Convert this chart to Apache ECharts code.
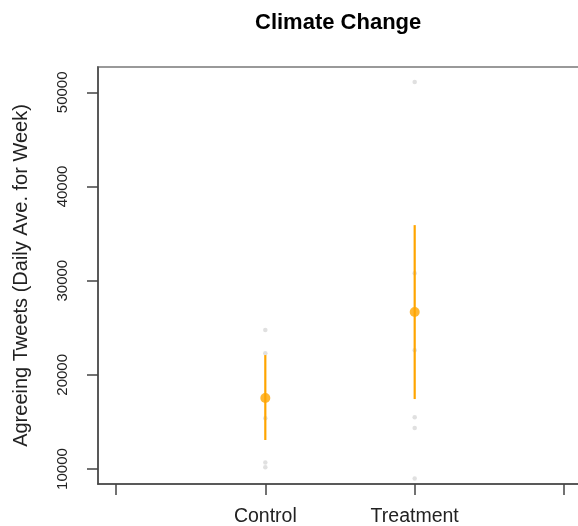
<!DOCTYPE html>
<html>
<head>
<meta charset="utf-8">
<script src="https://cdn.jsdelivr.net/npm/echarts@6/dist/echarts.min.js"></script>
<style>html,body{margin:0;padding:0;background:#fff;}#c{width:578px;height:526px;}</style>
</head>
<body>
<div id="c"></div>
<script>
const categories = ['Control', 'Treatment'];
const categoryPositions = [1, 2];
const meanValues = [17540, 26670];
const lowerValues = [13080, 17430];
const upperValues = [22100, 35900];
const controlPoints = [24760, 22300, 15400, 10700, 10200];
const treatmentPoints = [51100, 30800, 22600, 15500, 14350, 9000];
const yTicks = [10000, 20000, 30000, 40000, 50000];
const xTicks = [0, 1, 2, 3];

const FONT = 'Liberation Sans, Arial, Helvetica, sans-serif';

const rawPoints = [];
controlPoints.forEach(v => rawPoints.push([categoryPositions[0], v]));
treatmentPoints.forEach(v => rawPoints.push([categoryPositions[1], v]));

const barData = categoryPositions.map((x, i) => [x, lowerValues[i], upperValues[i]]);
const meanData = categoryPositions.map((x, i) => [x, meanValues[i]]);

const chart = echarts.init(document.getElementById('c'), null, {renderer: 'canvas'});
chart.setOption({
  animation: false,
  backgroundColor: '#fff',
  title: {
    text: 'Climate Change',
    left: 255, top: 12, padding: 0,
    textStyle: {fontFamily: FONT, fontSize: 22, fontWeight: 'bold', color: '#000'}
  },
  grid: {
    left: 98, top: 67, width: 484, height: 417,
    outerBoundsMode: 'none', containLabel: false,
    show: true, borderColor: '#999', borderWidth: 2, backgroundColor: 'transparent'
  },
  xAxis: {
    type: 'value', min: -0.12, max: 3.12,
    splitLine: {show: false},
    axisLine: {show: true, onZero: false, lineStyle: {color: '#444', width: 1.5}},
    axisTick: {show: true, length: 11, customValues: xTicks, lineStyle: {color: '#444', width: 1.5}},
    axisLabel: {
      customValues: categoryPositions,
      formatter: v => categories[categoryPositions.indexOf(Math.round(v))] || '',
      margin: 23, fontFamily: FONT, fontSize: 19.5, color: '#222'
    }
  },
  yAxis: {
    type: 'value', min: 8410, max: 52690,
    name: 'Agreeing Tweets (Daily Ave. for Week)',
    nameLocation: 'middle', nameRotate: 90, nameGap: 77,
    nameTextStyle: {fontFamily: FONT, fontSize: 20, color: '#222', align: 'center', verticalAlign: 'middle'},
    splitLine: {show: false},
    axisLine: {show: true, onZero: false, lineStyle: {color: '#444', width: 1.5}},
    axisTick: {show: true, length: 11, customValues: yTicks, lineStyle: {color: '#444', width: 1.5}},
    axisLabel: {
      customValues: yTicks, rotate: 90, margin: 28,
      align: 'center', verticalAlign: 'bottom',
      formatter: v => String(Math.round(v)),
      fontFamily: FONT, fontSize: 15, color: '#222'
    }
  },
  series: [
    {
      type: 'scatter', data: rawPoints, symbol: 'circle', symbolSize: 4.5,
      itemStyle: {color: '#d8d8d8'}, z: 1
    },
    {
      type: 'custom', data: barData, z: 2,
      renderItem: function (params, api) {
        const x = api.value(0);
        const p1 = api.coord([x, api.value(1)]);
        const p2 = api.coord([x, api.value(2)]);
        return {
          type: 'line',
          shape: {x1: p1[0], y1: p1[1], x2: p2[0], y2: p2[1]},
          style: {stroke: '#FFA500', lineWidth: 2.2}
        };
      }
    },
    {
      type: 'scatter', data: meanData, symbol: 'circle', symbolSize: 10,
      itemStyle: {color: '#FFA500'}, z: 3
    }
  ]
});
</script>
</body>
</html>
